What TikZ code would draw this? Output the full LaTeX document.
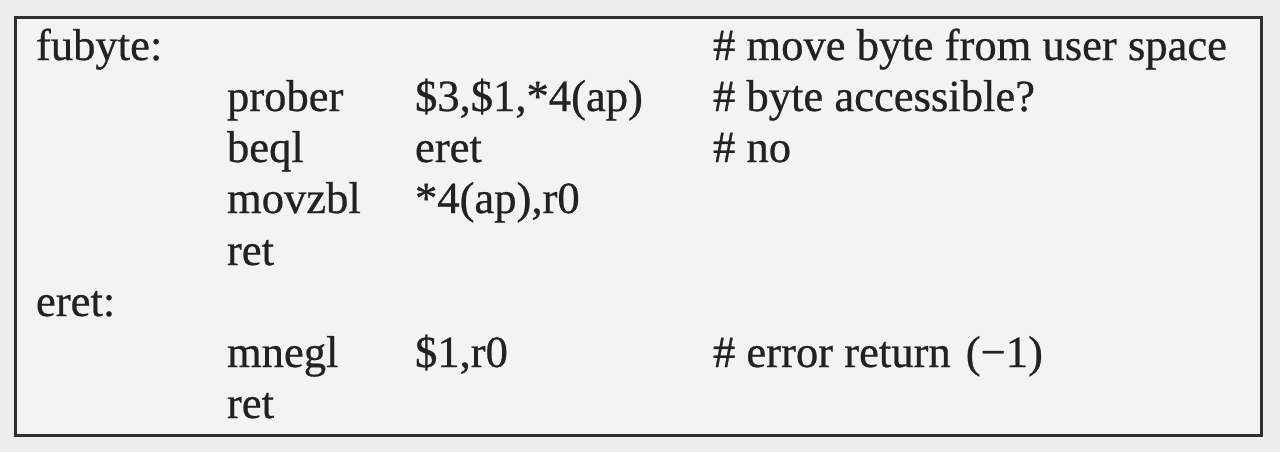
\documentclass[tikz,border=0pt]{standalone}
\usepackage{fontspec}
\setmainfont{Liberation Serif}
\newfontfamily\scanfont[FakeBold=0.6]{Liberation Serif}
\definecolor{paper}{HTML}{EDEDED}
\definecolor{boxfill}{HTML}{F3F3F3}
\definecolor{ink}{HTML}{222222}
\definecolor{frame}{HTML}{303030}
\tikzset{
  code/.style={anchor=base west, inner sep=0pt, outer sep=0pt, text=ink,
    font=\scanfont\fontsize{22.3}{22.3}\selectfont},
  listbox/.style={draw=frame, line width=1.5pt, fill=boxfill}
}
\begin{document}
\begin{tikzpicture}[x=0.5pt,y=-0.5pt]
\fill[paper] (0,0) rectangle (1280,452);
\useasboundingbox (0,0) rectangle (1280,452);
\draw[listbox] (15,17) rectangle (1261,435);
% row 1
\node[code] (lab1) at (36,60) {fubyte:};
\node[code] (com1) at (713,60) {\# move byte from user space};
% row 2
\node[code] (op2) at (227,111) {prober};
\node[code] (arg2) at (415,111) {\$3,\$1,*4(ap)};
\node[code] (com2) at (713,111) {\# byte accessible?};
% row 3
\node[code] (op3) at (227,162) {beql};
\node[code] (arg3) at (415,162) {eret};
\node[code] (com3) at (713,162) {\# no};
% row 4
\node[code] (op4) at (227,213) {movzbl};
\node[code] (arg4) at (415,213) {*4(ap),r0};
% row 5
\node[code] (op5) at (227,265) {ret};
% row 6
\node[code] (lab6) at (36,316) {eret:};
% row 7
\node[code] (op7) at (227,367) {mnegl};
\node[code] (arg7) at (415,367) {\$1,r0};
\node[code] (com7) at (713,367) {\# error return\hspace{7.5pt}(−1)};
% row 8
\node[code] (op8) at (227,418) {ret};
\end{tikzpicture}
\end{document}
